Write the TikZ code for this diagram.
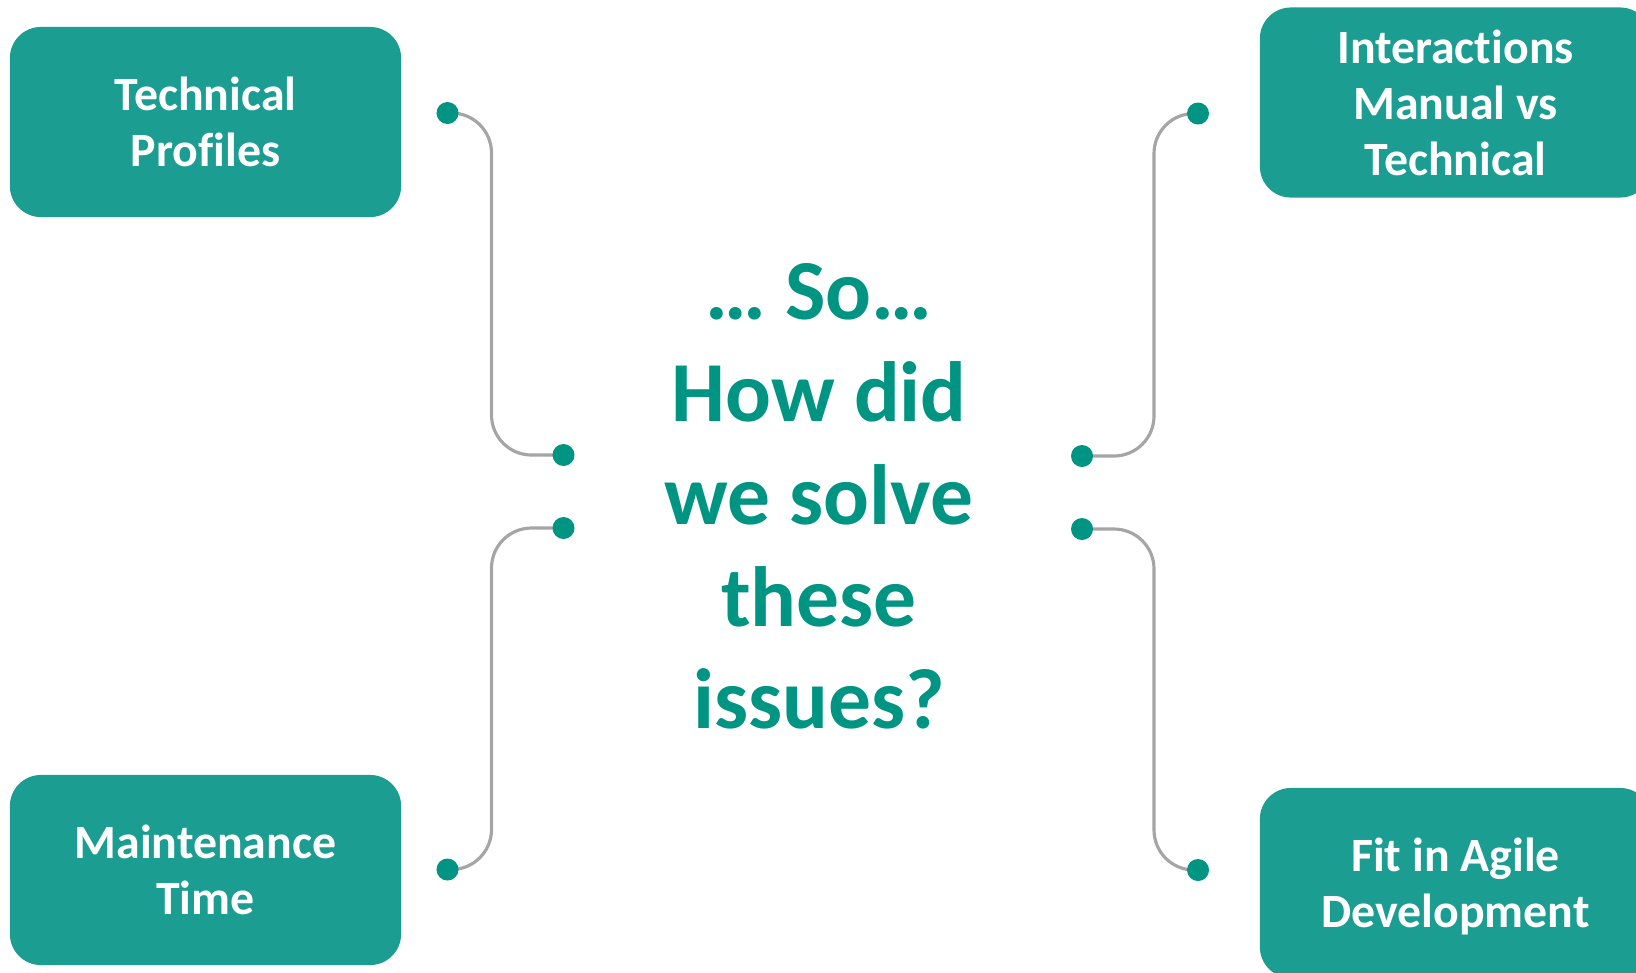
\documentclass[tikz,border=0pt]{standalone}
\usepackage{fontspec}
\setmainfont{Carlito}[Ligatures=NoCommon]
\usepackage{tikz}
\usetikzlibrary{backgrounds}

\definecolor{boxteal}{RGB}{27,158,145}
\definecolor{dotteal}{RGB}{0,148,131}
\definecolor{wiregray}{RGB}{165,165,165}

\tikzset{
  issue/.style={fill=boxteal, rounded corners=0.31cm, minimum width=3.91cm,
    minimum height=1.90cm, inner sep=0pt, text=white, align=center,
    text depth=0pt, font=\fontsize{13.6}{15.9}\selectfont\bfseries},
  knob/.style={circle, fill=dotteal, minimum size=0.22cm, inner sep=0pt},
  wire/.style={draw=wiregray, line width=0.9pt, rounded corners=0.4cm},
}

\begin{document}
\begin{tikzpicture}[x=0.01cm, y=-0.01cm]
    \useasboundingbox (0,0) rectangle (1636,972);
    \clip (0,0) rectangle (1636,972);

    % Draw the issue boxes
    \node[issue] (profiles) at (205.5,122) {Technical\\Profiles};
    \node[issue] (interactions) at (1455.5,102.5) {Interactions\\Manual vs\\Technical};
    \node[issue] (maintenance) at (205.5,870) {Maintenance\\Time};
    \node[issue] (agile) at (1455.5,883) {Fit in Agile\\Development};

    % Add the question
    \node[text=dotteal, align=center, text depth=0pt,
      font=\fontsize{24.3}{29.1}\selectfont\bfseries] (question) at (819,496)
      {… So…\\How did\\we solve\\these\\issues?};

    % Draw the dots
    \node[knob] (prof1) at (447.5,113) {};
    \node[knob] (prof2) at (563.5,455) {};
    \node[knob] (maint1) at (563.5,528) {};
    \node[knob] (maint2) at (447.5,869.5) {};
    \node[knob] (inter1) at (1198,113.5) {};
    \node[knob] (inter2) at (1082,456) {};
    \node[knob] (agile1) at (1082,529) {};
    \node[knob] (agile2) at (1198,870) {};
    \coordinate (spineL) at (491.5,0);
    \coordinate (spineR) at (1154,0);

    % Connect the dots
    \begin{scope}[on background layer]
      \draw[wire] (prof1.center) -- (prof1 -| spineL) -- (prof2 -| spineL) -- (prof2.center);
      \draw[wire] (maint1.center) -- (maint1 -| spineL) -- (maint2 -| spineL) -- (maint2.center);
      \draw[wire] (inter1.center) -- (inter1 -| spineR) -- (inter2 -| spineR) -- (inter2.center);
      \draw[wire] (agile1.center) -- (agile1 -| spineR) -- (agile2 -| spineR) -- (agile2.center);
    \end{scope}
\end{tikzpicture}
\end{document}
